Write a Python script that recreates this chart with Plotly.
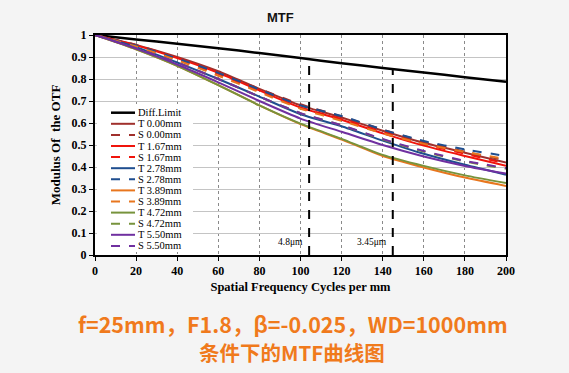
import plotly.graph_objects as go

# ---------------- data ----------------
freq = [0, 20, 40, 60, 80, 100, 120, 140, 160, 180, 200]
diff_limit = [1, 0.98, 0.96, 0.94, 0.918, 0.895, 0.872, 0.85, 0.83, 0.808, 0.787]
t_000 = [1, 0.955, 0.900, 0.835, 0.755, 0.680, 0.625, 0.565, 0.510, 0.465, 0.420]
s_000 = [1, 0.955, 0.895, 0.830, 0.755, 0.685, 0.630, 0.570, 0.515, 0.470, 0.430]
t_167 = [1, 0.953, 0.895, 0.828, 0.748, 0.670, 0.615, 0.553, 0.497, 0.450, 0.405]
s_167 = [1, 0.950, 0.890, 0.823, 0.745, 0.670, 0.618, 0.558, 0.503, 0.460, 0.415]
t_278 = [1, 0.945, 0.875, 0.800, 0.720, 0.640, 0.585, 0.520, 0.460, 0.410, 0.365]
s_278 = [1, 0.952, 0.893, 0.828, 0.752, 0.680, 0.632, 0.570, 0.518, 0.480, 0.450]
t_389 = [1, 0.935, 0.860, 0.772, 0.680, 0.595, 0.525, 0.450, 0.398, 0.352, 0.314]
s_389 = [1, 0.948, 0.885, 0.815, 0.740, 0.665, 0.610, 0.553, 0.505, 0.468, 0.436]
t_472 = [1, 0.935, 0.860, 0.772, 0.680, 0.597, 0.528, 0.455, 0.405, 0.362, 0.327]
s_472 = [1, 0.940, 0.875, 0.800, 0.720, 0.645, 0.590, 0.525, 0.470, 0.425, 0.392]
t_550 = [1, 0.938, 0.866, 0.785, 0.700, 0.620, 0.560, 0.500, 0.448, 0.405, 0.370]
s_550 = [1, 0.940, 0.875, 0.800, 0.720, 0.645, 0.590, 0.527, 0.473, 0.428, 0.395]

series_names = ["Diff.Limit", "T 0.00mm", "S 0.00mm", "T 1.67mm", "S 1.67mm",
                "T 2.78mm", "S 2.78mm", "T 3.89mm", "S 3.89mm",
                "T 4.72mm", "S 4.72mm", "T 5.50mm", "S 5.50mm"]
series_values = [diff_limit, t_000, s_000, t_167, s_167, t_278, s_278,
                 t_389, s_389, t_472, s_472, t_550, s_550]

pixel_labels = ["4.8μm", "3.45μm"]
pixel_freqs = [104.2, 144.9]
pixel_tops = [0.886, 0.845]

x_ticks = [0, 20, 40, 60, 80, 100, 120, 140, 160, 180, 200]
y_ticks = [0, 0.1, 0.2, 0.3, 0.4, 0.5, 0.6, 0.7, 0.8, 0.9, 1]
y_tick_labels = ["0", "0.1", "0.2", "0.3", "0.4", "0.5", "0.6", "0.7", "0.8", "0.9", "1"]

# ---------------- styles ----------------
colors = ["#000000", "#A0302C", "#A0302C", "#F0140C", "#F0140C",
          "#1F4E8F", "#1F4E8F", "#E8761E", "#E8761E",
          "#77933C", "#77933C", "#7030A0", "#7030A0"]
dashes = ["solid", "solid", "dash", "solid", "dash", "solid", "dash",
          "solid", "dash", "solid", "dash", "solid", "dash"]
widths = [2.5] + [2] * 12

W, H = 569, 373
L, R, T, B = 95, 63, 35, 118
PW, PH = W - L - R, H - T - B
SERIF = "Liberation Serif"


def px(xp):
    return (xp - L) / PW


def py(yp):
    return (H - B - yp) / PH


fig = go.Figure()

for name, vals, c, d, w in zip(series_names, series_values, colors, dashes, widths):
    fig.add_trace(go.Scatter(x=freq, y=vals, mode="lines", name=name,
                             line=dict(color=c, dash=d, width=w, shape="spline", smoothing=0.6),
                             showlegend=False))

for f, top in zip(pixel_freqs, pixel_tops):
    fig.add_trace(go.Scatter(x=[f, f], y=[0, top], mode="lines",
                             line=dict(color="#000000", dash="dash", width=2),
                             showlegend=False))

annotations = []
for lab, f in zip(pixel_labels, pixel_freqs):
    annotations.append(dict(x=f - 2, y=0.06, xref="x", yref="y", text=lab,
                            showarrow=False, xanchor="right", yanchor="middle",
                            font=dict(family=SERIF, size=9.5, color="#000000")))

# manual legend (boxed inside plot)
shapes = [dict(type="rect", xref="paper", yref="paper",
               x0=px(97), x1=px(193), y0=py(252), y1=py(104),
               fillcolor="#ffffff", line=dict(width=0), layer="above")]
for i, (name, c, d) in enumerate(zip(series_names, colors, dashes)):
    yy = 112.7 + i * 11.1
    shapes.append(dict(type="line", xref="paper", yref="paper",
                       x0=px(111), x1=px(135), y0=py(yy), y1=py(yy),
                       line=dict(color=c, width=2.5 if i == 0 else 2, dash=d), layer="above"))
    annotations.append(dict(x=px(136), y=py(yy), xref="paper", yref="paper", text=name,
                            showarrow=False, xanchor="left", yanchor="middle",
                            font=dict(family=SERIF, size=10.5, color="#000000")))

annotations.append(dict(x=px(280), y=py(17), xref="paper", yref="paper", text="<b>MTF</b>",
                        showarrow=False, xanchor="center", yanchor="middle",
                        font=dict(family="Liberation Sans", size=13, color="#111111")))
annotations.append(dict(x=px(293), y=py(323), xref="paper", yref="paper",
                        text="<b>f=25mm，F1.8，β=-0.025，WD=1000mm</b>",
                        showarrow=False, xanchor="center", yanchor="middle",
                        font=dict(family="Noto Sans CJK SC", size=21.5, color="#F07A1C")))
annotations.append(dict(x=px(292), y=py(352), xref="paper", yref="paper",
                        text="<b>条件下的MTF曲线图</b>",
                        showarrow=False, xanchor="center", yanchor="middle",
                        font=dict(family="Noto Sans CJK SC", size=20.5, color="#F07A1C")))

fig.update_layout(
    width=W, height=H,
    margin=dict(l=L, r=R, t=T, b=B),
    paper_bgcolor="#f4f4f4",
    plot_bgcolor="#ffffff",
    shapes=shapes,
    annotations=annotations,
    xaxis=dict(range=[0, 200], tickvals=x_ticks, ticktext=[str(v) for v in x_ticks],
               showgrid=True, gridcolor="#8a8a8a", griddash="dot", gridwidth=1,
               showline=True, linecolor="#000000", linewidth=2, mirror=True,
               ticks="outside", ticklen=4, tickcolor="#000000",
               tickfont=dict(family=SERIF, size=12, color="#000000", weight="bold"),
               title=dict(text="<b>Spatial Frequency Cycles per mm</b>", standoff=5,
                          font=dict(family=SERIF, size=12.5, color="#000000")),
               zeroline=False),
    yaxis=dict(range=[0, 1], tickvals=y_ticks, ticktext=y_tick_labels,
               showgrid=True, gridcolor="#c4c4c4", gridwidth=1,
               showline=True, linecolor="#000000", linewidth=2, mirror=True,
               ticks="outside", ticklen=4, tickcolor="#000000",
               tickfont=dict(family=SERIF, size=12, color="#000000", weight="bold"),
               title=dict(text="<b>Modulus Of  the OTF</b>", standoff=8,
                          font=dict(family=SERIF, size=13, color="#000000")),
               zeroline=False),
)

fig.write_html("out.html", config={"displayModeBar": False},
               post_script="document.body.style.margin='0';document.body.style.overflow='hidden';")
